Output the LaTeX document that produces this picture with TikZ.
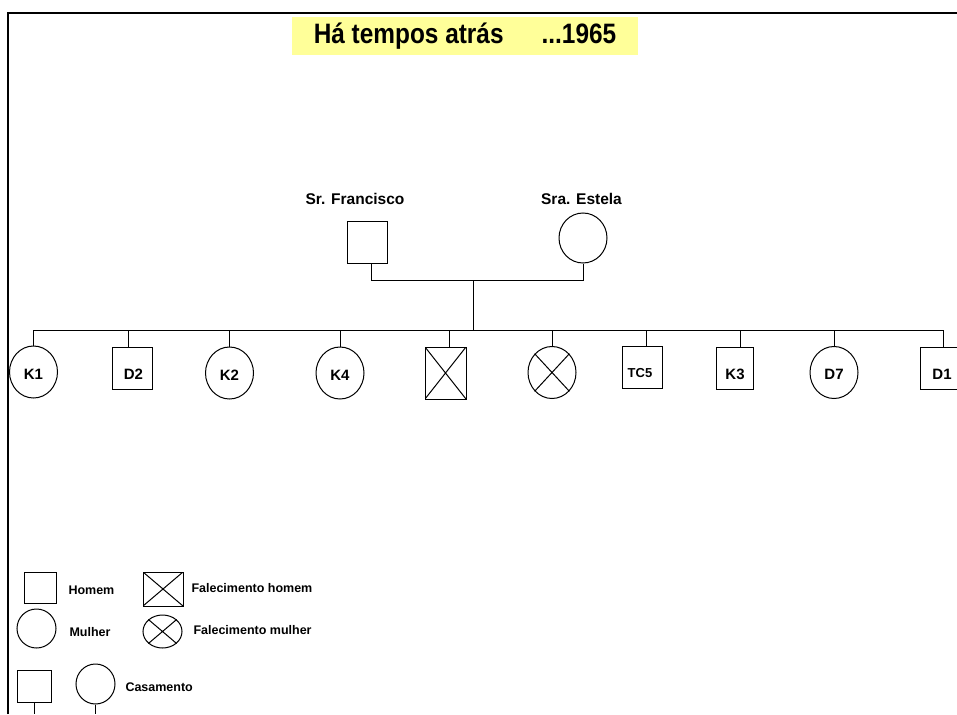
\documentclass[tikz,border=0pt]{standalone}
\usepackage{fontspec}
\setmainfont{Liberation Sans}
\usepackage{graphicx}
\usetikzlibrary{shapes.geometric}
\definecolor{titleyellow}{RGB}{255,255,153}
\begin{document}
\begin{tikzpicture}[x=1pt,y=-1pt,line width=1pt,
  kidfont/.style={font=\fontsize{15}{17}\selectfont\bfseries},
  man/.style={draw,rectangle,inner sep=0pt,minimum width=40pt,minimum height=42pt,kidfont,text height=22pt,text depth=0pt},
  woman/.style={draw,ellipse,inner sep=0pt,minimum width=48pt,minimum height=52pt,kidfont,text height=14pt,text depth=0pt},
  crossbox/.style={path picture={\draw (path picture bounding box.north west) -- (path picture bounding box.south east)
      (path picture bounding box.north east) -- (path picture bounding box.south west);}},
  plabel/.style={inner sep=0pt,anchor=base,font=\fontsize{15.5}{17}\selectfont\bfseries},
  lglabel/.style={inner sep=0pt,anchor=base west,font=\fontsize{12.5}{14}\selectfont\bfseries},
  frame/.style={line width=2.5pt}
]
\useasboundingbox (0,0) rectangle (957,714);

% frame
\coordinate (fa) at (8,714);
\coordinate (fb) at (8,13);
\coordinate (fc) at (957,13);
\draw[frame] (fa) -- (fb) -- (fc);

% title
\node[fill=titleyellow,inner sep=0pt,minimum width=346pt,minimum height=38pt,
  font=\fontsize{24.4}{26}\selectfont\bfseries] (title) at (465,36)
  {\scalebox{1}[1.15]{Há tempos atrás\hspace{38pt}...1965}};

% parents
\node[man] (fr) at (367,242.5) {};
\node[draw,ellipse,inner sep=0pt,minimum width=48pt,minimum height=50pt] (es) at (583,238) {};
\node[plabel] (frl) at (355,204) {Sr. Francisco};
\node[plabel] (esl) at (581.5,204) {Sra. Estela};
\coordinate (par) at (473,280);
\coordinate (sib) at (473,330);
\draw ([xshift=4pt]fr.south) |- (par);
\draw (es.south) |- (par);
\draw (par) -- (sib);

% children
\node[woman] (k1) at (33.5,372) {K1};
\node[man] (d2) at (132,368) {\hspace{3pt}D2};
\node[woman] (k2) at (229.5,373) {K2};
\node[woman] (k4) at (340,373) {K4};
\node[man,minimum width=41pt,minimum height=52pt,crossbox] (dm) at (445.5,373) {};
\node[woman] (dw) at (552,372.5) {};
\draw (dw.north east) -- (dw.south west) (dw.north west) -- (dw.south east);
\node[man,font=\fontsize{13}{15}\selectfont\bfseries,text height=19pt] (tc5) at (642,367.5) {\hspace{-4pt}TC5};
\node[man,minimum width=37pt] (k3) at (734.5,368) {\hspace{1pt}K3};
\node[woman] (d7) at (834,372.5) {D7};
\node[man] (d1) at (940,368) {\hspace{4pt}D1};

\draw (k1.north) |- (sib);
\draw ([xshift=-4pt]d2.north) |- (sib);
\draw (k2.north) |- (sib);
\draw (k4.north) |- (sib);
\draw ([xshift=3.5pt]dm.north) |- (sib);
\draw (dw.north) |- (sib);
\draw ([xshift=4pt]tc5.north) |- (sib);
\draw ([xshift=5.5pt]k3.north) |- (sib);
\draw (d7.north) |- (sib);
\draw ([xshift=3pt]d1.north) |- (sib);

% legend
\node[draw,inner sep=0pt,minimum width=32pt,minimum height=31pt] (lh) at (40,587.5) {};
\node[lglabel] (lhl) at (68,594) {Homem};
\node[draw,ellipse,inner sep=0pt,minimum width=39pt,minimum height=39pt] (lm) at (36.5,628.5) {};
\node[lglabel] (lml) at (69,636) {Mulher};
\node[draw,inner sep=0pt,minimum width=40pt,minimum height=34pt,crossbox] (lfh) at (163,589) {};
\node[lglabel] (lfhl) at (191,592) {Falecimento homem};
\node[draw,ellipse,inner sep=0pt,minimum width=39pt,minimum height=33pt] (lfm) at (162.5,631.5) {};
\draw (lfm.north east) -- (lfm.south west) (lfm.north west) -- (lfm.south east);
\node[lglabel] (lfml) at (193,634) {Falecimento mulher};

\node[draw,inner sep=0pt,minimum width=34pt,minimum height=32pt] (cs) at (34,686) {};
\coordinate (cse) at (34,714);
\draw (cs.south) -- (cse);
\node[draw,ellipse,inner sep=0pt,minimum width=39pt,minimum height=40pt] (cc) at (95.5,684) {};
\coordinate (cce) at (95.5,714);
\draw (cc.south) -- (cce);
\node[lglabel] (ccl) at (125,691) {Casamento};
\end{tikzpicture}
\end{document}
